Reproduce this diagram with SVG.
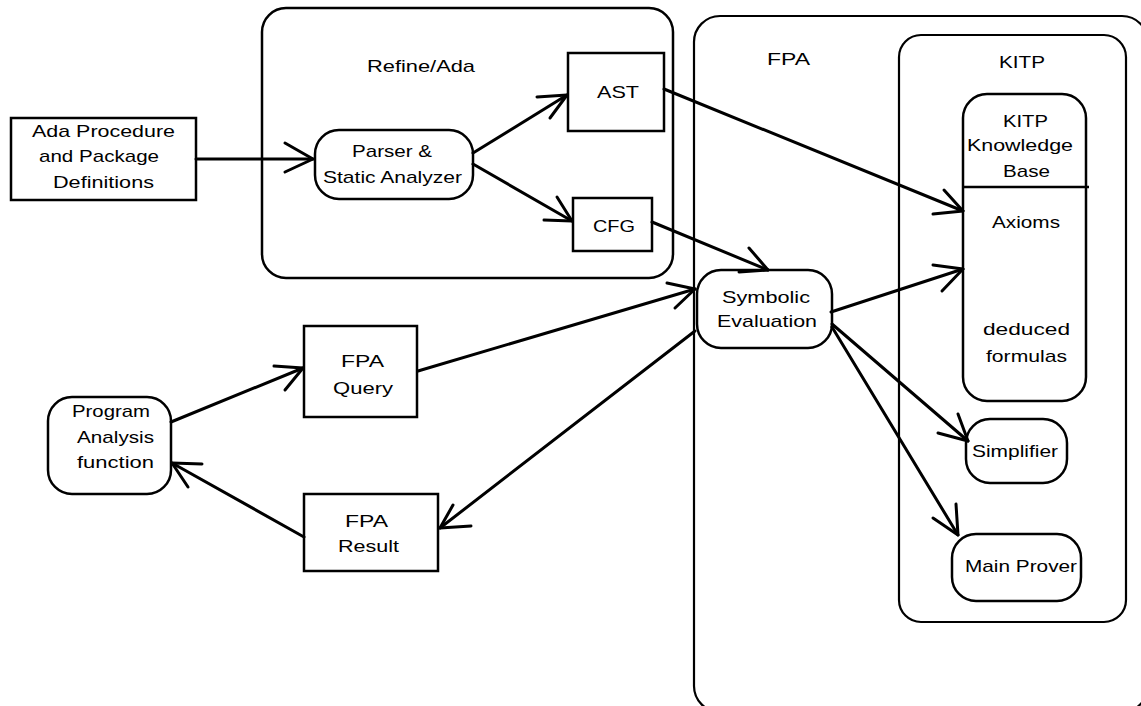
<svg xmlns="http://www.w3.org/2000/svg" width="1141" height="706" viewBox="0 0 1141 706">
<style>
.box{fill:#fff;stroke:#000;stroke-width:2.5}
.frame{fill:none;stroke:#000;stroke-width:2.2}
.ln{fill:none;stroke:#000;stroke-width:3;stroke-linecap:round;stroke-linejoin:round}
text{font-family:"Liberation Sans",Arial,sans-serif;font-size:17px;fill:#000}
</style>
<rect width="1141" height="706" fill="#fff"/>
<g id="fpa-frame">
<rect class="frame" x="694" y="16" width="454" height="696" rx="26"/>
<text x="767" y="65" textLength="43" lengthAdjust="spacingAndGlyphs">FPA</text>
</g>
<g id="kitp-frame">
<rect class="frame" x="899" y="35" width="227" height="587" rx="22"/>
<text x="999" y="68" textLength="46" lengthAdjust="spacingAndGlyphs">KITP</text>
</g>
<g id="refine-frame">
<rect class="box" x="262" y="8" width="411" height="270" rx="24"/>
<text x="367" y="72" textLength="108" lengthAdjust="spacingAndGlyphs">Refine/Ada</text>
</g>
<g id="ada-defs">
<rect class="box" x="11" y="118" width="185" height="82"/>
<text x="32" y="137" textLength="143" lengthAdjust="spacingAndGlyphs">Ada Procedure</text>
<text x="39" y="162" textLength="120" lengthAdjust="spacingAndGlyphs">and Package</text>
<text x="53" y="188" textLength="101" lengthAdjust="spacingAndGlyphs">Definitions</text>
</g>
<g id="parser">
<rect class="box" x="315" y="130" width="158" height="69" rx="24"/>
<text x="352" y="157" textLength="80" lengthAdjust="spacingAndGlyphs">Parser &amp;</text>
<text x="323" y="183" textLength="139" lengthAdjust="spacingAndGlyphs">Static Analyzer</text>
</g>
<g id="ast">
<rect class="box" x="568" y="53" width="96" height="78"/>
<text x="597" y="98" textLength="42" lengthAdjust="spacingAndGlyphs">AST</text>
</g>
<g id="cfg">
<rect class="box" x="573" y="198" width="79" height="53"/>
<text x="593" y="232" textLength="42" lengthAdjust="spacingAndGlyphs">CFG</text>
</g>
<g id="kb">
<rect class="box" x="963" y="94" width="123" height="307" rx="24"/>
<line x1="963" y1="187" x2="1089" y2="187" stroke="#000" stroke-width="2.5"/>
<text x="1003" y="127" textLength="45" lengthAdjust="spacingAndGlyphs">KITP</text>
<text x="967" y="151" textLength="106" lengthAdjust="spacingAndGlyphs">Knowledge</text>
<text x="1003" y="177" textLength="47" lengthAdjust="spacingAndGlyphs">Base</text>
<text x="992" y="228" textLength="68" lengthAdjust="spacingAndGlyphs">Axioms</text>
<text x="983" y="335" textLength="87" lengthAdjust="spacingAndGlyphs">deduced</text>
<text x="986" y="362" textLength="81" lengthAdjust="spacingAndGlyphs">formulas</text>
</g>
<g id="symeval">
<rect class="box" x="697" y="270" width="135" height="78" rx="24"/>
<text x="722" y="303" textLength="88" lengthAdjust="spacingAndGlyphs">Symbolic</text>
<text x="717" y="327" textLength="100" lengthAdjust="spacingAndGlyphs">Evaluation</text>
</g>
<g id="simplifier">
<rect class="box" x="966" y="419" width="101" height="64" rx="24"/>
<text x="972" y="457" textLength="86" lengthAdjust="spacingAndGlyphs">Simplifier</text>
</g>
<g id="mainprover">
<rect class="box" x="952" y="534" width="129" height="67" rx="24"/>
<text x="965" y="572" textLength="112" lengthAdjust="spacingAndGlyphs">Main Prover</text>
</g>
<g id="program">
<rect class="box" x="48" y="397" width="123" height="97" rx="24"/>
<text x="72" y="417" textLength="78" lengthAdjust="spacingAndGlyphs">Program</text>
<text x="77" y="443" textLength="77" lengthAdjust="spacingAndGlyphs">Analysis</text>
<text x="77" y="468" textLength="77" lengthAdjust="spacingAndGlyphs">function</text>
</g>
<g id="fpaquery">
<rect class="box" x="304" y="326" width="113" height="91"/>
<text x="341" y="367" textLength="43" lengthAdjust="spacingAndGlyphs">FPA</text>
<text x="333" y="394" textLength="60" lengthAdjust="spacingAndGlyphs">Query</text>
</g>
<g id="fparesult">
<rect class="box" x="304" y="494" width="134" height="77"/>
<text x="345" y="527" textLength="43" lengthAdjust="spacingAndGlyphs">FPA</text>
<text x="338" y="552" textLength="61" lengthAdjust="spacingAndGlyphs">Result</text>
</g>
<g id="connectors">
<line class="ln" x1="196" y1="159" x2="313" y2="159"/>
<polyline class="ln" points="285,143 313,159 285,172"/>
<line class="ln" x1="473" y1="153" x2="567" y2="95"/>
<polyline class="ln" points="537,97 567,95 550,118"/>
<line class="ln" x1="473" y1="164" x2="572" y2="221"/>
<polyline class="ln" points="557,197 572,221 544,220"/>
<line class="ln" x1="664" y1="89" x2="963" y2="211"/>
<polyline class="ln" points="944,190 963,211 933,214"/>
<line class="ln" x1="652" y1="222" x2="768" y2="270"/>
<polyline class="ln" points="749,248 768,270 739,272"/>
<line class="ln" x1="831" y1="312" x2="963" y2="269"/>
<polyline class="ln" points="933,265 963,269 942,291"/>
<line class="ln" x1="832" y1="324" x2="968" y2="441"/>
<polyline class="ln" points="958,414 968,441 938,433"/>
<line class="ln" x1="832" y1="327" x2="958" y2="535"/>
<polyline class="ln" points="956,504 958,535 933,518"/>
<line class="ln" x1="171" y1="422" x2="303" y2="368"/>
<polyline class="ln" points="274,366 303,368 285,390"/>
<line class="ln" x1="304" y1="537" x2="172" y2="463"/>
<polyline class="ln" points="202,464 172,463 188,487"/>
<line class="ln" x1="418" y1="371" x2="695" y2="289"/>
<polyline class="ln" points="667,283 695,289 675,308"/>
<line class="ln" x1="695" y1="331" x2="440" y2="528"/>
<polyline class="ln" points="453,505 440,528 471,526"/>
</g>
</svg>
